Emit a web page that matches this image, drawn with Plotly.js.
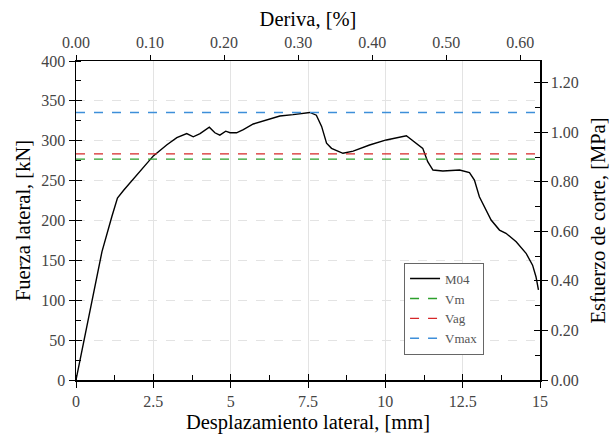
<!DOCTYPE html>
<html>
<head>
<meta charset="utf-8">
<script src="https://cdn.plot.ly/plotly-3.0.1.min.js"></script>
<style>
html,body{margin:0;padding:0;background:#fff}
#chart{width:612px;height:441px}
</style>
</head>
<body>
<div id="chart"></div>
<script>
// ---- data ----
const disp = [0, 0.36, 0.84, 1.16, 1.34, 1.54, 1.81, 2.18, 2.5, 2.94, 3.26, 3.58, 3.79, 4.01, 4.12, 4.31, 4.49, 4.65, 4.84, 4.98, 5.19, 5.41, 5.73, 5.95, 6.27, 6.59, 7.02, 7.24, 7.56, 7.77, 7.94, 8.1, 8.26, 8.63, 8.96, 9.49, 10.03, 10.68, 10.95, 11.21, 11.37, 11.54, 11.86, 12.4, 12.72, 12.88, 13.04, 13.26, 13.42, 13.69, 13.9, 14.23, 14.55, 14.76, 14.87, 14.95];
const force = [0, 71, 161, 205, 228, 238, 250, 267, 281, 295, 304, 309, 305, 309, 312, 317, 310, 307, 312, 310, 310, 314, 321, 323.5, 328, 331, 332.7, 334, 335.5, 332, 318, 297, 290.5, 284.3, 287, 294.7, 301, 306.3, 298, 290.5, 273.7, 263.3, 262, 263.3, 260, 250.8, 229.8, 213, 200.6, 188, 184, 173.4, 158.9, 144, 129.5, 113];
const Vm = 277;
const Vag = 283.5;
const Vmax = 335.5;
const seriesNames = ["M04", "Vm", "Vag", "Vmax"];
const xTickVals = [0, 2.5, 5, 7.5, 10, 12.5, 15];
const xTickText = ["0", "2.5", "5", "7.5", "10", "12.5", "15"];
const xRange = [0, 15];
const yRange = [0, 400];
const driftMax = 0.6266;       // % at 15 mm
const stressMax = 400 / 310.7;  // MPa at 400 kN

const serif = "Times New Roman";
const lineTraces = [
  {x: disp, y: force, mode: "lines", name: seriesNames[0], line: {color: "#000", width: 1.4}},
  {x: xRange, y: [Vm, Vm], mode: "lines", name: seriesNames[1], line: {color: "#2ca02c", width: 1.4, dash: "dash"}},
  {x: xRange, y: [Vag, Vag], mode: "lines", name: seriesNames[2], line: {color: "#d62728", width: 1.4, dash: "dash"}},
  {x: xRange, y: [Vmax, Vmax], mode: "lines", name: seriesNames[3], line: {color: "#3d8fd9", width: 1.4, dash: "dash"}}
];
const helper = (xa, ya) => ({x: [0], y: [0], xaxis: xa, yaxis: ya, mode: "markers", marker: {opacity: 0}, showlegend: false, hoverinfo: "skip"});
const traces = lineTraces.concat([helper("x2", "y2"), helper("x3", "y3"), helper("x3", "y4")]);

const tf = () => ({family: serif, size: 16});
const ttf = () => ({family: serif, size: 20.5, color: "#000"});

const layout = {
  width: 612, height: 441,
  margin: {l: 76, r: 72, t: 61, b: 61},
  paper_bgcolor: "#fff", plot_bgcolor: "#fff",
  showlegend: true,
  legend: {x: 0.707, y: 0.368, xanchor: "left", yanchor: "top", bgcolor: "#fff",
           bordercolor: "#666", borderwidth: 1, font: {family: serif, size: 13, color: "#555"},
           tracegroupgap: 0, itemwidth: 30},
  xaxis: {range: xRange, tickvals: xTickVals, ticktext: xTickText, showline: true, linecolor: "#000", linewidth: 1.5,
          ticks: "outside", ticklen: 6, tickcolor: "#000", tickfont: tf(), zeroline: false,
          showgrid: true, gridcolor: "#e3e3e3", gridwidth: 1,
          minor: {dtick: 1.25, tick0: 0, ticks: "inside", ticklen: 5, tickcolor: "#000", showgrid: false},
          title: {text: "Desplazamiento lateral, [mm]", font: ttf(), standoff: 6}},
  xaxis2: {range: [0, driftMax], overlaying: "x", side: "top", anchor: "y", dtick: 0.1, tick0: 0, tickformat: ".2f",
           showline: true, linecolor: "#000", linewidth: 1.5, ticks: "outside", ticklen: 5, tickcolor: "#000",
           tickfont: tf(), showgrid: false, zeroline: false,
           title: {text: "Deriva, [%]", font: ttf(), standoff: 2}},
  xaxis3: {range: xRange, overlaying: "x", anchor: "y", tickvals: xTickVals, ticks: "inside", ticklen: 6, tickcolor: "#000",
           showticklabels: false, showgrid: false, zeroline: false, showline: false},
  yaxis: {range: yRange, dtick: 50, tick0: 0, showline: true, linecolor: "#000", linewidth: 1.5,
          ticks: "outside", ticklen: 6, tickcolor: "#000", tickfont: tf(), zeroline: false,
          showgrid: true, gridcolor: "#e3e3e3", griddash: "dash", gridwidth: 1,
          minor: {dtick: 25, tick0: 0, ticks: "inside", ticklen: 5, tickcolor: "#000", showgrid: false},
          title: {text: "Fuerza lateral, [kN]", font: ttf(), standoff: 5}},
  yaxis2: {range: [0, stressMax], overlaying: "y", side: "right", anchor: "x", dtick: 0.2, tick0: 0, tickformat: ".2f",
           showline: true, linecolor: "#000", linewidth: 1.5, ticks: "outside", ticklen: 6, tickcolor: "#000",
           tickfont: tf(), showgrid: false, zeroline: false,
           minor: {dtick: 0.1, tick0: 0, ticks: "inside", ticklen: 5, tickcolor: "#000", showgrid: false},
           title: {text: "Esfuerzo de corte, [MPa]", font: ttf(), standoff: 13}},
  yaxis3: {range: yRange, overlaying: "y", anchor: "x", dtick: 50, tick0: 0, ticks: "inside", ticklen: 6, tickcolor: "#000",
           showticklabels: false, showgrid: false, zeroline: false, showline: false},
  yaxis4: {range: [0, stressMax], overlaying: "y", side: "right", anchor: "x", dtick: 0.2, tick0: 0, ticks: "inside", ticklen: 6,
           tickcolor: "#000", showticklabels: false, showgrid: false, zeroline: false, showline: false}
};

Plotly.newPlot("chart", traces, layout, {displayModeBar: false, staticPlot: true});
</script>
</body>
</html>
